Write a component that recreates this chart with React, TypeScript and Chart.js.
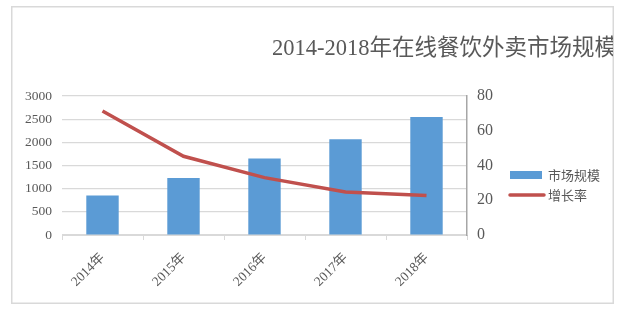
import React, { useEffect, useRef } from "react";
import { Chart, registerables } from "chart.js";

Chart.register(...registerables);

const categories = ["2014年", "2015年", "2016年", "2017年", "2018年"];
const marketSize = [850, 1230, 1650, 2065, 2547];
const growthRate = [71.4, 45.3, 33.0, 24.7, 22.8];
const seriesNames = ["市场规模", "增长率"];
const titleText = "2014-2018年在线餐饮外卖市场规模";

const BAR_COLOR = "#5b9bd5";
const LINE_COLOR = "#c0504d";
const TEXT_COLOR = "#595959";
const SERIF = '"Liberation Serif", "Noto Sans CJK SC", serif';
const SANS = '"Noto Sans CJK SC", "Noto Sans", sans-serif';

const decor = {
  id: "decor",
  beforeDraw(chart: any) {
    const ctx = chart.ctx;
    ctx.save();
    ctx.fillStyle = "#ffffff";
    ctx.fillRect(0, 0, chart.width, chart.height);
    ctx.strokeStyle = "#d9d9d9";
    ctx.lineWidth = 1.5;
    ctx.strokeRect(11.75, 6.75, 601.5, 296.5);
    ctx.restore();
  },
  afterDraw(chart: any) {
    const ctx = chart.ctx;
    // title, clipped by the frame
    ctx.save();
    ctx.beginPath();
    ctx.rect(12.5, 7.5, 600.5, 295.5);
    ctx.clip();
    ctx.font = "22.5px " + SERIF;
    ctx.fillStyle = TEXT_COLOR;
    ctx.textAlign = "left";
    ctx.textBaseline = "middle";
    ctx.fillText(titleText, 272, 49);
    ctx.restore();

    // legend
    ctx.save();
    const ca = chart.chartArea;
    const lx = ca.right + 43;
    ctx.fillStyle = BAR_COLOR;
    ctx.fillRect(lx, 171, 32, 8);
    ctx.strokeStyle = LINE_COLOR;
    ctx.lineWidth = 3.5;
    ctx.lineCap = "round";
    ctx.beginPath();
    ctx.moveTo(lx, 195);
    ctx.lineTo(lx + 34, 195);
    ctx.stroke();
    ctx.font = "13px " + SANS;
    ctx.fillStyle = TEXT_COLOR;
    ctx.textAlign = "left";
    ctx.textBaseline = "middle";
    ctx.fillText(seriesNames[0], lx + 38, 175);
    ctx.fillText(seriesNames[1], lx + 38, 195);
    ctx.restore();
  },
};

export default function App() {
  const ref = useRef<HTMLCanvasElement>(null);
  useEffect(() => {
    if (!ref.current) return;
    const chart = new Chart(ref.current, {
      type: "bar",
      data: {
        labels: categories,
        datasets: [
          {
            type: "line",
            label: seriesNames[1],
            data: growthRate,
            yAxisID: "y1",
            borderColor: LINE_COLOR,
            backgroundColor: LINE_COLOR,
            borderWidth: 3.5,
            pointRadius: 0,
            tension: 0,
            order: 0,
          } as any,
          {
            type: "bar",
            label: seriesNames[0],
            data: marketSize,
            yAxisID: "y",
            backgroundColor: BAR_COLOR,
            borderWidth: 0,
            categoryPercentage: 1,
            barPercentage: 0.4,
            order: 1,
          } as any,
        ],
      },
      options: {
        responsive: false,
        animation: false,
        layout: { padding: { top: 96, right: 116, left: 0, bottom: 0 } },
        plugins: {
          legend: { display: false },
          title: { display: false },
          tooltip: { enabled: false },
        },
        scales: {
          x: {
            offset: true,
            grid: {
              offset: true,
              drawOnChartArea: false,
              drawTicks: true,
              tickLength: 5,
              color: "#d9d9d9",
            },
            border: { display: true, color: "#d9d9d9", width: 1 },
            ticks: {
              maxRotation: 45,
              minRotation: 45,
              padding: 10,
              color: TEXT_COLOR,
              font: { family: SERIF, size: 13.5 },
            },
            afterFit(scale: any) {
              scale.height = 76;
            },
          },
          y: {
            position: "left",
            min: 0,
            max: 3000,
            ticks: {
              stepSize: 500,
              padding: 10,
              color: TEXT_COLOR,
              font: { family: SERIF, size: 13.5 },
              callback: (v: any) => String(v),
            },
            grid: { color: "#d9d9d9", lineWidth: 1.2, drawTicks: false },
            border: { display: false },
            afterFit(scale: any) {
              scale.width = 62;
            },
          },
          y1: {
            position: "right",
            min: 0,
            max: 80,
            ticks: {
              stepSize: 20,
              padding: 10,
              color: TEXT_COLOR,
              font: { family: SERIF, size: 16 },
              callback: (v: any) => String(v),
            },
            grid: { drawOnChartArea: false, drawTicks: false },
            border: { display: true, color: "#a6a6a6", width: 1.5 },
            afterFit(scale: any) {
              scale.width = 40;
            },
          },
        },
      },
      plugins: [decor],
    });
    return () => chart.destroy();
  }, []);
  return (
    <div style={{ position: "fixed", left: 0, top: 0, width: 623, height: 311 }}>
      <canvas ref={ref} width={623} height={311} style={{ display: "block" }} />
    </div>
  );
}
